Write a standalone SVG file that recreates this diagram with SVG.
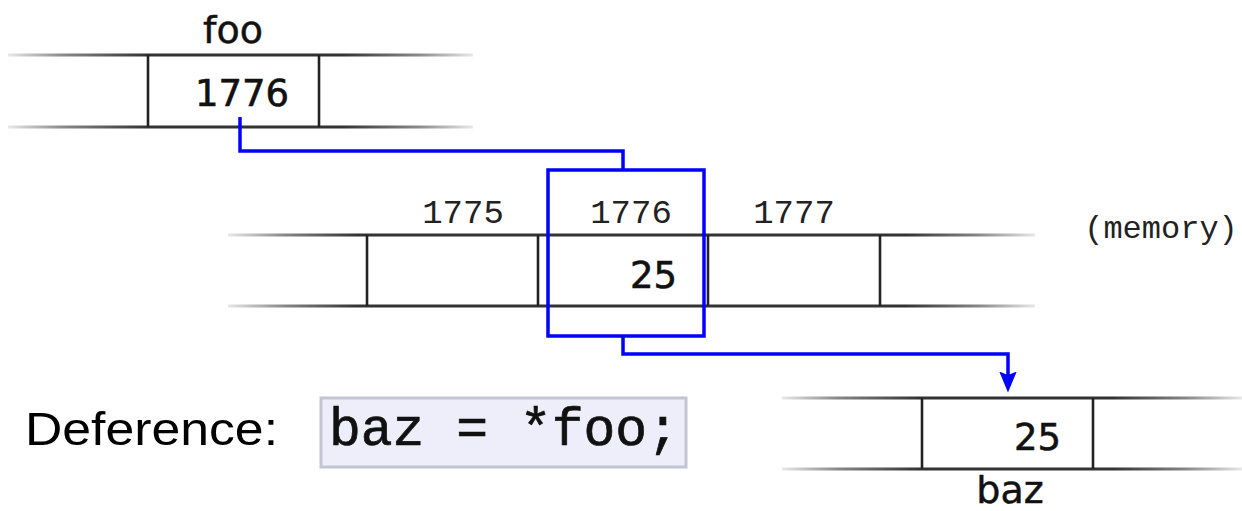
<svg xmlns="http://www.w3.org/2000/svg" width="1242" height="511" viewBox="0 0 1242 511">
  <defs>
    <!-- rails fade out at both ends; one gradient per row span -->
    <linearGradient id="railFoo" gradientUnits="userSpaceOnUse" x1="8" y1="0" x2="473" y2="0">
      <stop offset="0" stop-color="#e8e8e8"/>
      <stop offset="0.12" stop-color="#888"/>
      <stop offset="0.3" stop-color="#333"/>
      <stop offset="0.72" stop-color="#333"/>
      <stop offset="0.88" stop-color="#888"/>
      <stop offset="1" stop-color="#e8e8e8"/>
    </linearGradient>
    <linearGradient id="railMem" gradientUnits="userSpaceOnUse" x1="228" y1="0" x2="1035" y2="0">
      <stop offset="0" stop-color="#e8e8e8"/>
      <stop offset="0.07" stop-color="#888"/>
      <stop offset="0.16" stop-color="#333"/>
      <stop offset="0.84" stop-color="#333"/>
      <stop offset="0.93" stop-color="#888"/>
      <stop offset="1" stop-color="#e8e8e8"/>
    </linearGradient>
    <linearGradient id="railBaz" gradientUnits="userSpaceOnUse" x1="782" y1="0" x2="1242" y2="0">
      <stop offset="0" stop-color="#e8e8e8"/>
      <stop offset="0.12" stop-color="#888"/>
      <stop offset="0.3" stop-color="#333"/>
      <stop offset="0.72" stop-color="#333"/>
      <stop offset="0.88" stop-color="#888"/>
      <stop offset="1" stop-color="#e8e8e8"/>
    </linearGradient>
    <marker id="arrow" markerWidth="6" markerHeight="5" refX="3" refY="2.5" orient="auto" markerUnits="strokeWidth">
      <path d="M0,0 L6,2.5 L0,5 L1,2.5 Z" fill="#0000ff"/>
    </marker>
  </defs>
  <style>
    .rail { stroke-width: 3; fill: none; }
    .cell { stroke: #222; stroke-width: 2.6; fill: none; }
    .name { font-family: "DejaVu Sans", Verdana, sans-serif; font-size: 38px; fill: #111; stroke: #111; stroke-width: 0.5; text-anchor: middle; }
    .val { font-family: "DejaVu Sans", Verdana, sans-serif; font-size: 37px; fill: #111; stroke: #111; stroke-width: 0.6; }
    .addr { font-family: "Liberation Mono", "Courier New", monospace; font-size: 34px; fill: #222; text-anchor: middle; }
    .link { stroke: #0000ff; stroke-width: 3.5; fill: none; }
  </style>
  <rect width="1242" height="511" fill="#ffffff"/>

  <!-- variable foo -->
  <g id="foo">
    <line class="rail" stroke="url(#railFoo)" x1="8" y1="55" x2="473" y2="55"/>
    <line class="rail" stroke="url(#railFoo)" x1="8" y1="127" x2="473" y2="127"/>
    <line class="cell" x1="148" y1="55" x2="148" y2="127"/>
    <line class="cell" x1="319" y1="55" x2="319" y2="127"/>
    <text class="name" x="233" y="43">foo</text>
    <text class="val" x="242" y="106" text-anchor="middle">1776</text>
  </g>

  <!-- memory row -->
  <g id="memory">
    <line class="rail" stroke="url(#railMem)" x1="228" y1="235" x2="1035" y2="235"/>
    <line class="rail" stroke="url(#railMem)" x1="228" y1="306" x2="1035" y2="306"/>
    <line class="cell" x1="367" y1="235" x2="367" y2="306"/>
    <line class="cell" x1="538" y1="235" x2="538" y2="306"/>
    <line class="cell" x1="708" y1="235" x2="708" y2="306"/>
    <line class="cell" x1="880" y1="235" x2="880" y2="306"/>
    <text class="addr" x="463" y="223">1775</text>
    <text class="addr" x="631" y="223">1776</text>
    <text class="addr" x="794" y="223">1777</text>
    <text class="addr" x="1161" y="238" style="font-size:32px">(memory)</text>
    <text class="val" x="677" y="288" text-anchor="end">25</text>
  </g>

  <!-- variable baz -->
  <g id="baz">
    <line class="rail" stroke="url(#railBaz)" x1="782" y1="398" x2="1242" y2="398"/>
    <line class="rail" stroke="url(#railBaz)" x1="782" y1="469" x2="1242" y2="469"/>
    <line class="cell" x1="922" y1="398" x2="922" y2="469"/>
    <line class="cell" x1="1093" y1="398" x2="1093" y2="469"/>
    <text class="val" x="1061" y="450" text-anchor="end">25</text>
    <text class="name" x="1010" y="503">baz</text>
  </g>

  <!-- statement -->
  <g id="statement">
    <text x="25" y="445" font-family="'Liberation Sans', Arial, sans-serif" font-size="47" textLength="253" lengthAdjust="spacingAndGlyphs" fill="#000">Deference:</text>
    <rect x="321" y="398" width="365" height="69" fill="#eeeefb" stroke="#c4c4d4" stroke-width="3"/>
    <text x="329" y="445" font-family="'Liberation Mono', 'Courier New', monospace" font-size="53" fill="#111" stroke="#111" stroke-width="0.7">baz = *foo;</text>
  </g>

  <!-- pointer connectors -->
  <g id="connectors">
    <path class="link" d="M240,117 V151 H623 V170"/>
    <rect class="link" x="548" y="170" width="156" height="166" stroke-width="3"/>
    <path class="link" d="M623,336 V354 H1008 V382" marker-end="url(#arrow)"/>
  </g>
</svg>
